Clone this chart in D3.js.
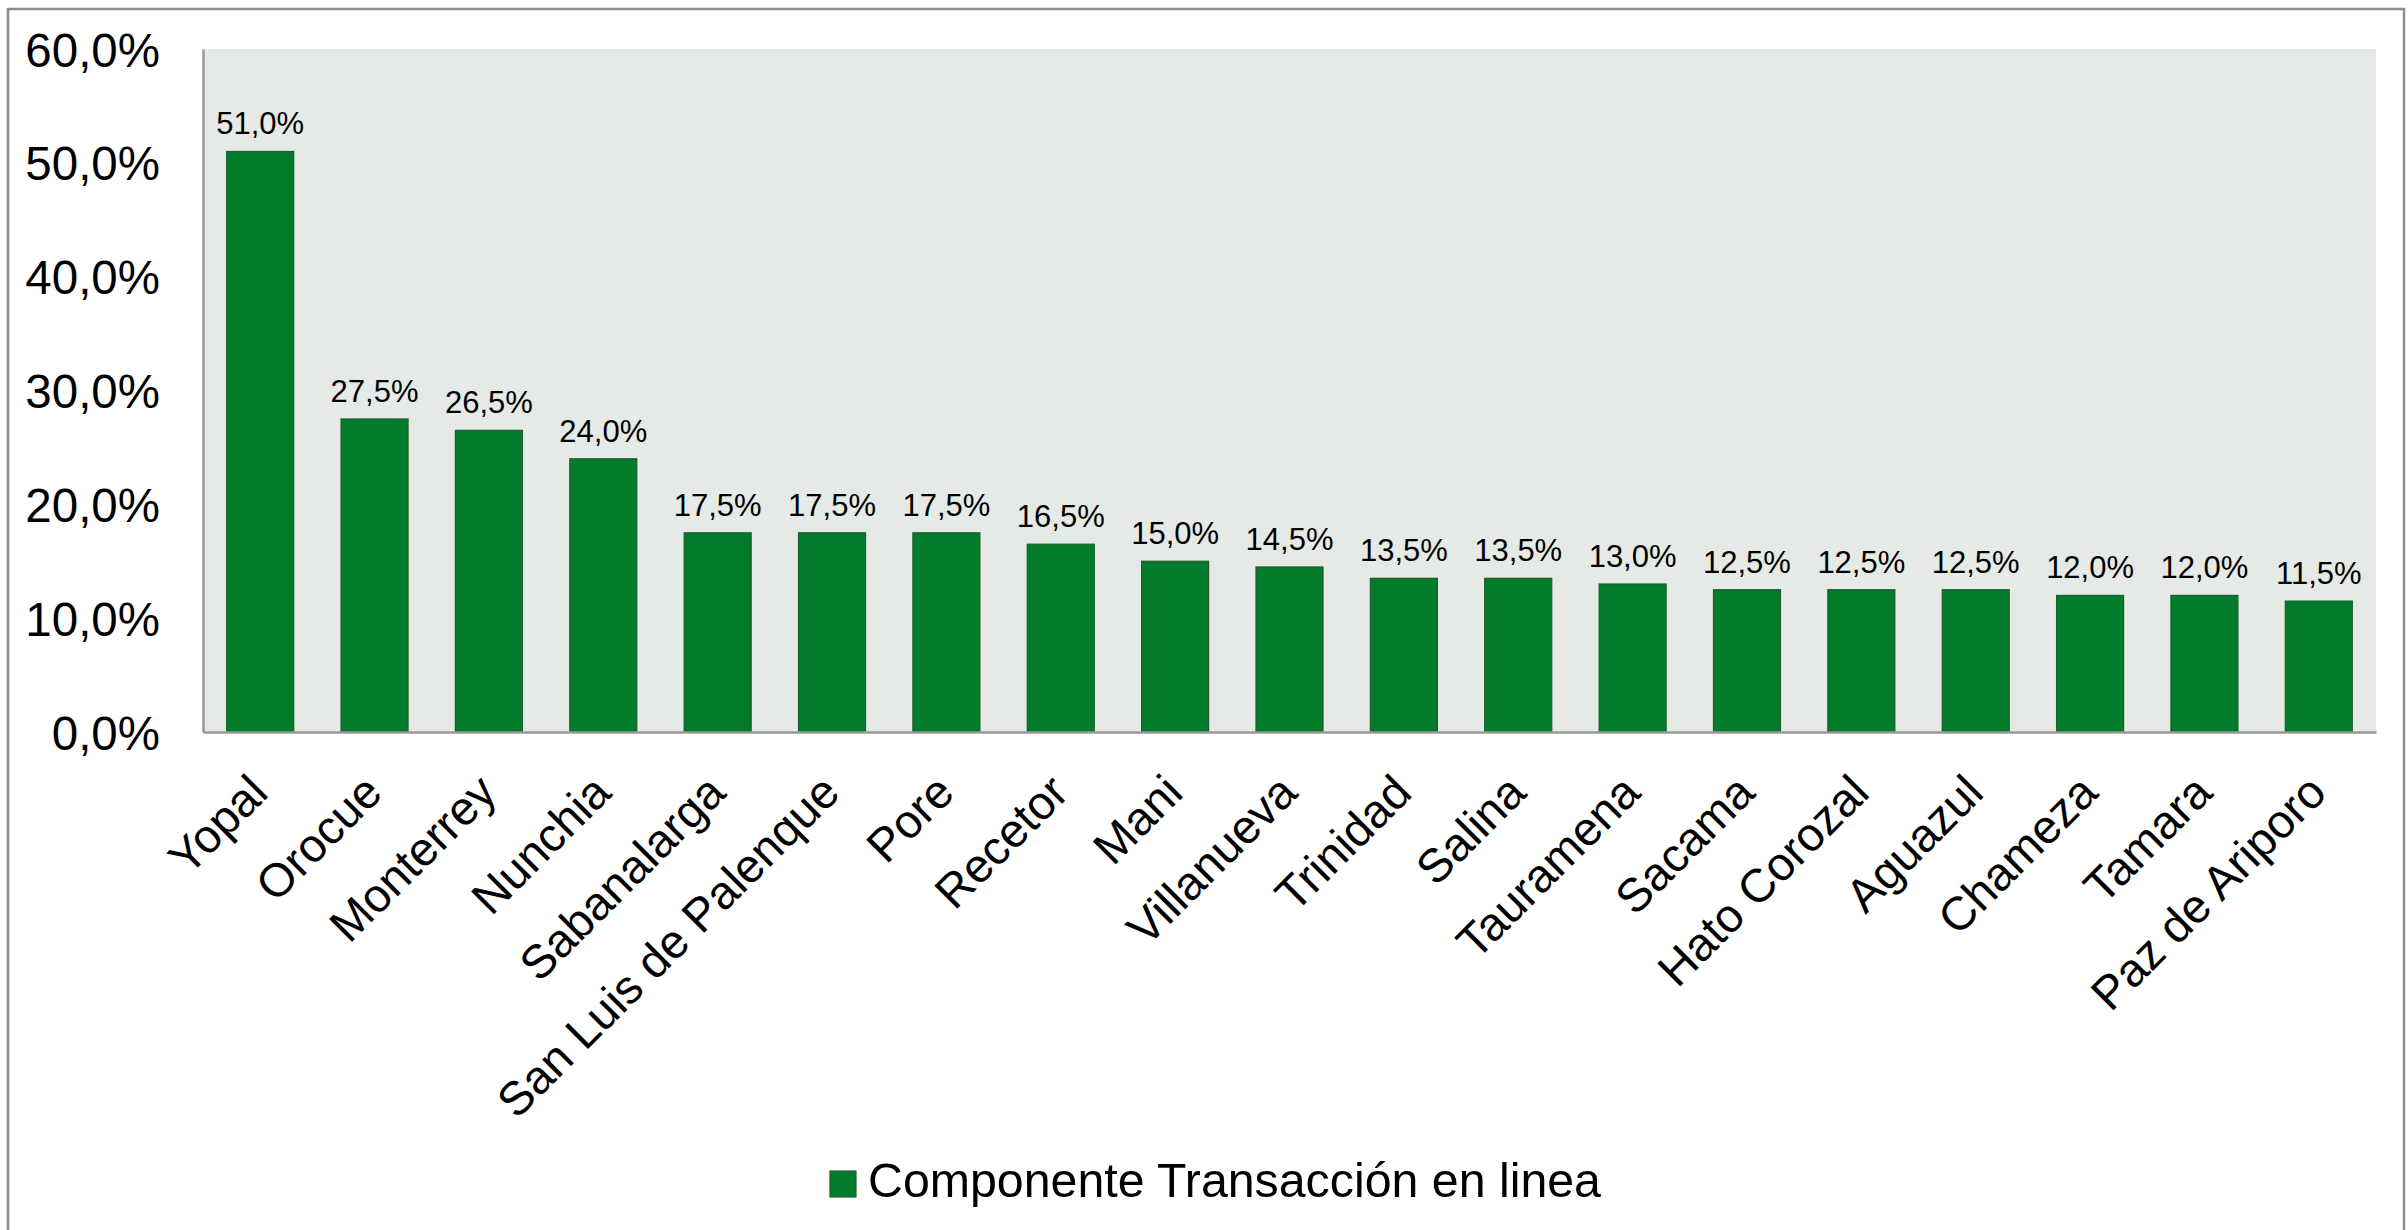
<!DOCTYPE html>
<html>
<head>
<meta charset="utf-8">
<script src="https://cdn.jsdelivr.net/npm/d3@7"></script>
<style>
  body { margin: 0; background: #fff; }
  text { font-family: Arial, "Liberation Sans", sans-serif; fill: #000; }
</style>
</head>
<body>
<div id="main"></div>
<script>
// data
var municipios = ["Yopal", "Orocue", "Monterrey", "Nunchia", "Sabanalarga", "San Luis de Palenque",
    "Pore", "Recetor", "Mani", "Villanueva", "Trinidad", "Salina", "Tauramena", "Sacama",
    "Hato Corozal", "Aguazul", "Chameza", "Tamara", "Paz de Ariporo"];
var valores = [51.0, 27.5, 26.5, 24.0, 17.5, 17.5, 17.5, 16.5, 15.0, 14.5, 13.5, 13.5, 13.0, 12.5,
    12.5, 12.5, 12.0, 12.0, 11.5];
var y_ticks = [0, 10, 20, 30, 40, 50, 60];
var serie = "Componente Transacción en linea";

// dimensions
var svg_width = 2408,
    svg_height = 1230;
var margin = {top: 49, right: 32, bottom: 498, left: 203};
var graph_width = svg_width - margin.left - margin.right,
    graph_height = svg_height - margin.top - margin.bottom;

var fmt = function(v) { return d3.format(".1f")(v).replace(".", ",") + "%"; };

var svg = d3.select("#main").append("svg")
    .attr("width", svg_width)
    .attr("height", svg_height);

// outer border
svg.append("rect")
    .attr("x", 8).attr("y", 9)
    .attr("width", 2396).attr("height", 1240)
    .attr("fill", "none")
    .attr("stroke", "#8c8c8c")
    .attr("stroke-width", 2.5);

var g = svg.append("g")
    .attr("transform", "translate(" + margin.left + "," + margin.top + ")");

/** scales **/
var xScale = d3.scaleBand()
    .domain(municipios)
    .range([0, graph_width])
    .paddingInner(0.414)
    .paddingOuter(0.207);
var yScale = d3.scaleLinear()
    .domain([0, 60])
    .range([graph_height, 0]);

// plot background
g.append("rect")
    .attr("width", graph_width)
    .attr("height", graph_height)
    .attr("fill", "#e6eae6");

/** bars **/
var data = municipios.map(function(m, i) { return {name: m, value: valores[i]}; });

g.selectAll(".bar")
    .data(data)
    .enter()
    .append("rect")
    .attr("class", "bar")
    .attr("x", function(d) { return xScale(d.name); })
    .attr("y", function(d) { return yScale(d.value); })
    .attr("width", xScale.bandwidth())
    .attr("height", function(d) { return graph_height - yScale(d.value); })
    .attr("fill", "#027b2b")
    .attr("stroke", "#1d5e2c")
    .attr("stroke-width", 1.2);

// value labels
g.selectAll(".val")
    .data(data)
    .enter()
    .append("text")
    .attr("class", "val")
    .attr("x", function(d) { return xScale(d.name) + xScale.bandwidth() / 2; })
    .attr("y", function(d) { return yScale(d.value) - 17; })
    .attr("text-anchor", "middle")
    .style("font-size", "31px")
    .text(function(d) { return fmt(d.value); });

/** axes **/
var yAxis = g.append("g")
    .attr("id", "y-axis")
    .call(d3.axisLeft(yScale).tickValues(y_ticks).tickSize(0).tickPadding(43)
        .tickFormat(function(d) { return fmt(d); }));
yAxis.select(".domain").attr("stroke", "#999").attr("stroke-width", 2.5);
yAxis.selectAll("text").style("font-size", "47.5px").attr("dy", "0.36em");

var xAxis = g.append("g")
    .attr("id", "x-axis")
    .attr("transform", "translate(0," + graph_height + ")")
    .call(d3.axisBottom(xScale).tickSize(0).tickPadding(0));
xAxis.select(".domain").attr("stroke", "#999").attr("stroke-width", 2.5);
xAxis.selectAll("text")
    .style("font-size", "47px")
    .attr("text-anchor", "end")
    .attr("dy", 0)
    .attr("y", 0)
    .attr("transform", "translate(10,63) rotate(-45)");

/** legend **/
var legend = svg.append("g").attr("id", "legend");
legend.append("text")
    .attr("x", 868)
    .attr("y", 1197)
    .style("font-size", "48.3px")
    .text(serie);
legend.append("rect")
    .attr("x", 830).attr("y", 1171)
    .attr("width", 26).attr("height", 26)
    .attr("fill", "#027b2b")
    .attr("stroke", "#1d5e2c")
    .attr("stroke-width", 1.2);
</script>
</body>
</html>
